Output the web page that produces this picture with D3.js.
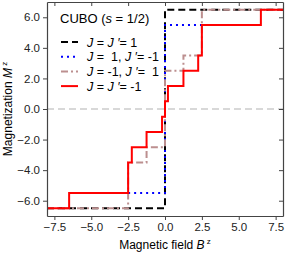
<!DOCTYPE html>
<html>
<head>
<meta charset="utf-8">
<script src="https://cdn.jsdelivr.net/npm/d3@7"></script>
<style>
body{margin:0;background:#fff;}
text{font-family:"Liberation Sans",Arial,sans-serif;white-space:pre;}
</style>
</head>
<body>
<div id="chart"></div>
<script>
// step curves: [B, M] breakpoints (M holds until the next B)
var ferro    = [[-8,-6.5],[0,6.5],[8,6.5]];
var mixedA   = [[-2.5,-5.5],[0,5.5],[2.5,5.5]];
var mixedB   = [[-8,-6.5],[-2.5,-3.5],[-1.25,-2.5],[0,2.5],[1.25,3.5],[2.5,6.5],[8,6.5]];
var antiferro= [[-8,-6.5],[-6.5,-5.5],[-2.5,-3.5],[-2.25,-2.5],[-1.25,-1.5],[-0.2,-0.5],[0,0.5],[0.2,1.5],[1.25,2.5],[2.25,3.5],[2.5,5.5],[6.5,6.5],[8,6.5]];
var xTicks = [-7.5,-5,-2.5,0,2.5,5,7.5];
var yTicks = [-6,-4,-2,0,2,4,6];

var series = [
  {pts:ferro, color:"#000", dash:"7,4", lab:["J"," = ","J ′","= 1"]},
  {pts:mixedA, color:"#0000ff", dash:"2,4", lab:["J"," =  1, ","J ′","= -1"]},
  {pts:mixedB, color:"#bc8f8f", dash:"7,3,2,3", lab:["J"," = -1, ","J ′","=  1"]},
  {pts:antiferro, color:"#ff0000", dash:null, lab:["J"," = ","J ′","= -1"]}
];

var W = 287, H = 254;
var svg = d3.select("#chart").append("svg").attr("width",W).attr("height",H);

var x = d3.scaleLinear().domain([-8,8]).range([47,283]);
var y = d3.scaleLinear().domain([-7,7]).range([216,2]);

// zero line
svg.append("line")
  .attr("x1",x(-8)).attr("x2",x(8)).attr("y1",y(0)).attr("y2",y(0))
  .attr("stroke","#ccc").attr("stroke-width",1.5).attr("stroke-dasharray","7,4");

var line = d3.line().x(function(d){return x(d[0]);}).y(function(d){return y(d[1]);}).curve(d3.curveStepAfter);

svg.append("defs").append("clipPath").attr("id","clip")
  .append("rect").attr("x",47).attr("y",2).attr("width",236).attr("height",214);

var g = svg.append("g").attr("clip-path","url(#clip)");
series.forEach(function(s){
  g.append("path").datum(s.pts)
    .attr("d",line)
    .attr("fill","none")
    .attr("stroke",s.color)
    .attr("stroke-width",2)
    .attr("stroke-dasharray",s.dash);
});

// axes
svg.append("g").attr("transform","translate(0,216)")
  .call(d3.axisBottom(x).tickValues(xTicks).tickFormat(d3.format(".1f")).tickSize(4).tickSizeOuter(0))
  .call(function(a){ a.selectAll("text").attr("font-size",11.5).attr("fill","#222").attr("font-family","Liberation Sans, Arial, sans-serif"); });
svg.append("g").attr("transform","translate(47,0)")
  .call(d3.axisLeft(y).tickValues(yTicks).tickFormat(d3.format(".1f")).tickSize(4).tickSizeOuter(0))
  .call(function(a){ a.selectAll("text").attr("font-size",11.5).attr("fill","#222").attr("font-family","Liberation Sans, Arial, sans-serif"); });
svg.append("g").attr("transform","translate(0,2)")
  .call(d3.axisBottom(x).tickValues(xTicks).tickFormat("").tickSize(4).tickSizeOuter(0));
svg.append("g").attr("transform","translate(283,0)")
  .call(d3.axisLeft(y).tickValues(yTicks).tickFormat("").tickSize(4).tickSizeOuter(0));
svg.selectAll(".domain").attr("stroke","#444").attr("stroke-width",1.2);
svg.selectAll(".tick line").attr("stroke","#444");

// axis titles
var xl = svg.append("text").attr("x",165).attr("y",249).attr("text-anchor","middle").attr("font-size",12);
xl.append("tspan").text("Magnetic field ");
xl.append("tspan").attr("font-style","italic").text("B");
xl.append("tspan").attr("font-size",8).attr("dy",-5).text(" z");
var yl = svg.append("text").attr("transform","translate(12,109) rotate(-90)").attr("text-anchor","middle").attr("font-size",12);
yl.append("tspan").text("Magnetization ");
yl.append("tspan").attr("font-style","italic").text("M");
yl.append("tspan").attr("font-size",8).attr("dy",-5).text(" z");

// legend
var tt = svg.append("text").attr("x",60).attr("y",23).attr("font-size",13);
tt.append("tspan").text("CUBO (");
tt.append("tspan").attr("font-style","italic").text("s");
tt.append("tspan").text(" = 1/2)");

series.forEach(function(s,i){
  var ly = 42 + i*14.7;
  svg.append("line").attr("x1",61).attr("x2",78).attr("y1",ly).attr("y2",ly)
    .attr("stroke",s.color).attr("stroke-width",2).attr("stroke-dasharray",s.dash);
  var t = svg.append("text").attr("x",87).attr("y",ly+4.5).attr("font-size",12.5);
  s.lab.forEach(function(p,k){
    t.append("tspan").attr("font-style",k%2==0?"italic":null).text(p);
  });
});
</script>
</body>
</html>
